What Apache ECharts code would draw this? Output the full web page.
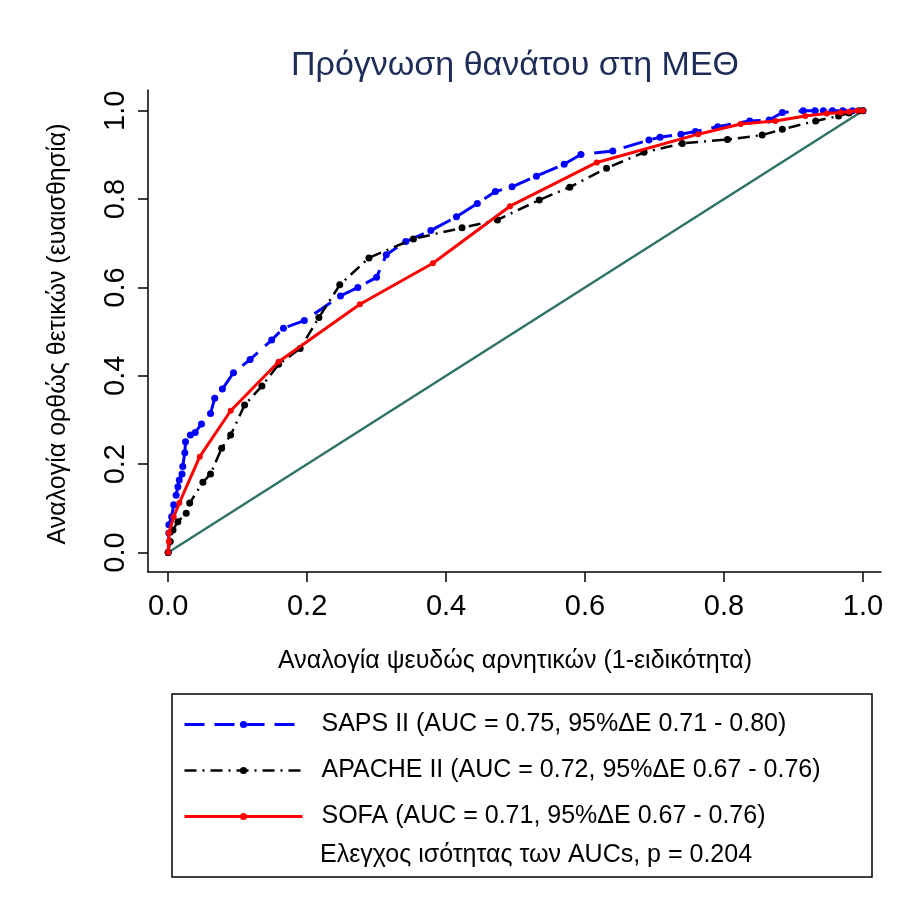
<!DOCTYPE html>
<html>
<head>
<meta charset="UTF-8">
<title>ROC</title>
<script src="https://cdn.jsdelivr.net/npm/echarts@6/dist/echarts.min.js"></script>
<style>
html, body { margin: 0; padding: 0; background: #fff; }
#main { width: 902px; height: 911px; }
</style>
</head>
<body>
<div id="main"></div>
<script>
// ROC points (1-specificity, sensitivity)
var sapsX = [0, 0.001, 0.001, 0.005, 0.008, 0.0115, 0.014, 0.016, 0.02, 0.021, 0.024, 0.025, 0.032, 0.039, 0.048, 0.061, 0.067, 0.078, 0.094, 0.118, 0.149, 0.166, 0.196, 0.248, 0.273, 0.30, 0.314, 0.342, 0.378, 0.415, 0.445, 0.471, 0.495, 0.53, 0.57, 0.594, 0.64, 0.692, 0.708, 0.738, 0.759, 0.791, 0.837, 0.865, 0.884, 0.914, 0.931, 0.943, 0.956, 0.971, 0.985, 1];
var sapsY = [0, 0.044, 0.063, 0.081, 0.108, 0.13, 0.149, 0.164, 0.178, 0.195, 0.226, 0.251, 0.266, 0.272, 0.291, 0.315, 0.349, 0.37, 0.407, 0.437, 0.481, 0.508, 0.525, 0.581, 0.6, 0.623, 0.674, 0.704, 0.729, 0.76, 0.79, 0.817, 0.828, 0.852, 0.879, 0.901, 0.909, 0.934, 0.94, 0.947, 0.953, 0.964, 0.977, 0.979, 0.996, 1, 1, 1, 1, 1, 1, 1];

var apacheX = [0, 0.003, 0.007, 0.014, 0.026, 0.031, 0.05, 0.061, 0.077, 0.09, 0.11, 0.135, 0.159, 0.19, 0.217, 0.247, 0.289, 0.353, 0.423, 0.474, 0.534, 0.578, 0.631, 0.685, 0.74, 0.805, 0.855, 0.884, 0.932, 0.965, 0.98, 0.994, 1];
var apacheY = [0, 0.025, 0.051, 0.07, 0.089, 0.112, 0.159, 0.178, 0.236, 0.266, 0.334, 0.377, 0.426, 0.462, 0.532, 0.606, 0.667, 0.71, 0.735, 0.753, 0.798, 0.827, 0.87, 0.906, 0.926, 0.935, 0.945, 0.958, 0.977, 0.988, 0.995, 1, 1];

var sofaX = [0, 0.001, 0.001, 0.008, 0.016, 0.0455, 0.09, 0.159, 0.276, 0.381, 0.492, 0.617, 0.763, 0.824, 0.874, 0.917, 0.948, 0.968, 0.98, 0.992, 1];
var sofaY = [0, 0.025, 0.044, 0.081, 0.112, 0.217, 0.321, 0.432, 0.562, 0.655, 0.784, 0.883, 0.947, 0.97, 0.977, 0.988, 0.994, 0.996, 0.998, 1, 1];

var refX = [0, 1];
var refY = [0, 1];

var tickValues = [0, 0.2, 0.4, 0.6, 0.8, 1.0];

var names = [
	'SAPS II (AUC = 0.75, 95%ΔΕ 0.71 - 0.80)',
	'APACHE II (AUC = 0.72, 95%ΔΕ 0.67 - 0.76)',
	'SOFA (AUC = 0.71, 95%ΔΕ 0.67 - 0.76)'
];
var testText = 'Ελεγχος ισότητας των AUCs, p = 0.204';

var FONT = '"Liberation Sans", Arial, Helvetica, sans-serif';

function pairs(xs, ys) {
	var out = [];
	for (var i = 0; i < xs.length; i++) out.push([xs[i], ys[i]]);
	return out;
}

var myChart = echarts.init(document.getElementById('main'));

function axisCommon() {
	return {
		type : 'value',
		splitLine : { show : false },
		axisLine : { show : true, onZero : false, lineStyle : { color : '#000', width : 1.5 } },
		axisTick : { show : true, customValues : tickValues, length : 10, lineStyle : { color : '#000', width : 1.5 } },
		axisLabel : {
			customValues : tickValues,
			color : '#000',
			fontFamily : FONT,
			fontSize : 29,
			formatter : function(v) { return v.toFixed(1); }
		}
	};
}

var xAxis = axisCommon();
xAxis.min = -0.029;
xAxis.max = 1.026;
xAxis.axisLabel.margin = 20;

var yAxis = axisCommon();
yAxis.min = -0.044;
yAxis.max = 1.047;
yAxis.axisLabel.rotate = 90;
yAxis.axisLabel.margin = 18;

// line styles shared by plot and legend
var sapsLine = { color : '#0000ff', width : 3, type : [20, 10] };
var apacheLine = { color : '#000', width : 2.5, type : [12, 6, 2, 6] };
var sofaLine = { color : '#ff0000', width : 3 };

var option = {
	animation : false,
	backgroundColor : '#fff',
	grid : { left : 148, right : 21, top : 90, bottom : 339 },
	xAxis : xAxis,
	yAxis : yAxis,
	legend : {
		orient : 'vertical',
		left : 178,
		top : 707,
		itemWidth : 118,
		itemHeight : 9,
		itemGap : 21,
		data : [
			{ name : names[0], lineStyle : sapsLine },
			{ name : names[1], lineStyle : apacheLine },
			{ name : names[2], lineStyle : sofaLine }
		],
		textStyle : { color : '#000', fontFamily : FONT, fontSize : 25, padding : [0, 0, 0, 14] }
	},
	graphic : [ {
		type : 'rect',
		shape : { x : 172, y : 694, width : 700, height : 183 },
		style : { fill : 'none', stroke : '#000', lineWidth : 1.5 },
		silent : true
	}, {
		type : 'text',
		x : 320, y : 855,
		style : { text : testText, fill : '#000', font : '25px ' + FONT, align : 'left', verticalAlign : 'middle' }
	}, {
		type : 'text',
		x : 515, y : 66,
		style : { text : 'Πρόγνωση θανάτου στη ΜΕΘ', fill : '#1e2d57', font : '34px ' + FONT, align : 'center', verticalAlign : 'middle' }
	}, {
		type : 'text',
		x : 515, y : 661,
		style : { text : 'Αναλογία ψευδώς αρνητικών (1-ειδικότητα)', fill : '#000', font : '25px ' + FONT, align : 'center', verticalAlign : 'middle' }
	}, {
		type : 'text',
		x : 58, y : 334,
		rotation : Math.PI / 2,
		style : { text : 'Αναλογία ορθώς θετικών (ευαισθησία)', fill : '#000', font : '25px ' + FONT, align : 'center', verticalAlign : 'middle' }
	} ],
	series : [ {
		name : 'ref',
		type : 'line',
		data : pairs(refX, refY),
		symbol : 'none',
		lineStyle : { color : '#2f7367', width : 2.5 },
		z : 1
	}, {
		name : names[0],
		type : 'line',
		data : pairs(sapsX, sapsY),
		symbol : 'circle',
		symbolSize : 7,
		itemStyle : { color : '#0000ff' },
		lineStyle : sapsLine,
		z : 2
	}, {
		name : names[1],
		type : 'line',
		data : pairs(apacheX, apacheY),
		symbol : 'circle',
		symbolSize : 7,
		itemStyle : { color : '#000' },
		lineStyle : apacheLine,
		z : 3
	}, {
		name : names[2],
		type : 'line',
		data : pairs(sofaX, sofaY),
		symbol : 'circle',
		symbolSize : 6,
		itemStyle : { color : '#ff0000' },
		lineStyle : sofaLine,
		z : 4
	} ]
};
myChart.setOption(option);
</script>
</body>
</html>
